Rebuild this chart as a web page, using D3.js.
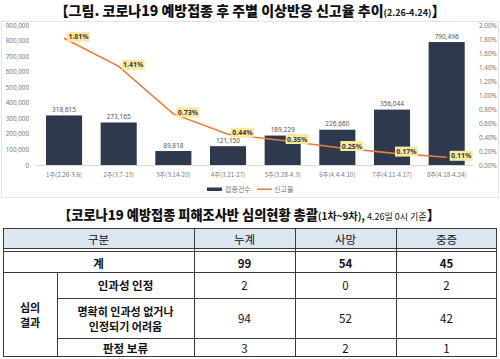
<!DOCTYPE html>
<html><head><meta charset="utf-8">
<script src="https://cdn.jsdelivr.net/npm/d3@7"></script>
<style>
html,body{margin:0;padding:0;background:#fff;}
svg{display:block;}
text{font-family:"Noto Sans CJK KR","Noto Sans",sans-serif;}
</style></head>
<body>
<svg id="c" width="500" height="359"></svg>
<script>
const categories = ["1주(2.26-3.6)","2주(3.7-13)","3주(3.14-20)","4주(3.21-27)","5주(3.28-4.3)","6주(4.4-4.10)","7주(4.11-4.17)","8주(4.18-4.24)"];
const counts = [318615,273165,89818,121150,189229,226660,356044,790496];
const rates = [1.81,1.41,0.73,0.44,0.35,0.25,0.17,0.11];
const leftTicks = [0,100000,200000,300000,400000,500000,600000,700000,800000,900000];
const rightTicks = [0,0.2,0.4,0.6,0.8,1.0,1.2,1.4,1.6,1.8,2.0];
const legendLabels = ["접종건수","신고율"];

const tableHeader = ["구분","누계","사망","중증"];
const totalRow = ["계",99,54,45];
const groupLabel = ["심의","결과"];
const rowLabels = [["인과성 인정"],["명확히 인과성 없거나","인정되기 어려움"],["판정 보류"]];
const rowValues = [[2,0,2],[94,52,42],[3,2,1]];

const svg = d3.select("#c");

// ---- Chart title
const t1 = svg.append("text").attr("x",250).attr("y",15.5).attr("text-anchor","middle")
  .attr("font-weight",900).attr("font-size",14).attr("fill","#111");
t1.append("tspan").text("【그림. 코로나19 예방접종 후 주별 이상반응 신고율 추이");
t1.append("tspan").attr("font-size",9).attr("font-weight",700).text("(2.26-4.24)");
t1.append("tspan").text("】");

// chart frame
svg.append("rect").attr("x",1.5).attr("y",21.5).attr("width",497).attr("height",176)
  .attr("fill","none").attr("stroke","#e4e4e4");

const x = d3.scaleBand().domain(categories).range([36.7,474]).paddingInner(0.34).paddingOuter(0.17);
const yL = d3.scaleLinear().domain([0,900000]).range([165,25]);
const yR = d3.scaleLinear().domain([0,2]).range([165,25]);

// left axis
const gL = svg.append("g").attr("transform","translate(29,0)")
  .call(d3.axisLeft(yL).tickValues(leftTicks).tickFormat(d3.format(",")).tickSize(0).tickPadding(0));
gL.select(".domain").remove();
gL.selectAll("text").attr("font-size",6.3).attr("fill","#777").style("font-family","'Noto Sans','DejaVu Sans',sans-serif");

// right axis
const gR = svg.append("g").attr("transform","translate(479,0)")
  .call(d3.axisRight(yR).tickValues(rightTicks).tickFormat(d=>d3.format(".2f")(d)+"%").tickSize(0).tickPadding(0));
gR.select(".domain").remove();
gR.selectAll("text").attr("font-size",6.3).attr("fill","#777").style("font-family","'Noto Sans','DejaVu Sans',sans-serif");

// baseline
svg.append("line").attr("x1",36).attr("x2",474).attr("y1",yL(0)+0.5).attr("y2",yL(0)+0.5).attr("stroke","#d9d9d9");

// bars
svg.selectAll("rect.bar").data(counts).join("rect").attr("class","bar")
  .attr("x",(d,i)=>x(categories[i])).attr("width",x.bandwidth())
  .attr("y",d=>yL(d)).attr("height",d=>yL(0)-yL(d)).attr("fill","#2d3a4e");

// bar value labels
svg.selectAll("text.bv").data(counts).join("text").attr("class","bv")
  .attr("x",(d,i)=>x(categories[i])+x.bandwidth()/2).attr("y",d=>yL(d)-3.5)
  .attr("text-anchor","middle").attr("font-size",6.5).attr("fill","#555")
  .style("font-family","'Noto Sans','DejaVu Sans',sans-serif")
  .text(d=>d3.format(",")(d));

// category labels
svg.selectAll("text.cat").data(categories).join("text").attr("class","cat")
  .attr("x",d=>x(d)+x.bandwidth()/2).attr("y",177).attr("text-anchor","middle")
  .attr("font-size",6.2).attr("fill","#777").text(d=>d);

// line
const cx = i => x(categories[i])+x.bandwidth()/2;
svg.append("path").datum(rates)
  .attr("d",d3.line().x((d,i)=>cx(i)).y(d=>yR(d)))
  .attr("fill","none").attr("stroke","#ed7d31").attr("stroke-width",1.6);

// rate labels
const rl = svg.selectAll("g.rl").data(rates).join("g").attr("class","rl")
  .attr("transform",(d,i)=>`translate(${cx(i)+3},${yR(d)-1.5})`);
rl.append("rect").attr("x",0).attr("y",-5).attr("width",23).attr("height",10).attr("fill","#fde8a2");
rl.append("text").attr("x",11.5).attr("y",2.5).attr("text-anchor","middle")
  .attr("font-size",7).attr("font-weight",700).attr("fill","#3a3a3a")
  .style("font-family","'Noto Sans','DejaVu Sans',sans-serif")
  .text(d=>d3.format(".2f")(d)+"%");

// legend
svg.append("rect").attr("x",207).attr("y",187.5).attr("width",15).attr("height",3.5).attr("fill","#2d3a4e");
svg.append("text").attr("x",225).attr("y",191.8).attr("font-size",7).attr("fill","#777").text(legendLabels[0]);
svg.append("line").attr("x1",257).attr("x2",272).attr("y1",189.2).attr("y2",189.2).attr("stroke","#ed7d31").attr("stroke-width",1.5);
svg.append("text").attr("x",274).attr("y",191.8).attr("font-size",7).attr("fill","#777").text(legendLabels[1]);

// ---- Table title
const t2 = svg.append("text").attr("x",249).attr("y",220).attr("text-anchor","middle")
  .attr("font-weight",900).attr("font-size",13.2).attr("fill","#111");
t2.append("tspan").text("【코로나19 예방접종 피해조사반 심의현황 총괄");
t2.append("tspan").attr("font-size",10).attr("font-weight",700).text("(1차~9차), ");
t2.append("tspan").attr("font-size",9).attr("font-weight",400).text("4.26일 0시 기준");
t2.append("tspan").text("】");

// ---- Table
const colX = [3,57,194,295,396,497];
const rowY = [228,248,251,272,298,338,357];
const tg = svg.append("g");
tg.append("rect").attr("x",colX[0]).attr("y",rowY[0]).attr("width",colX[5]-colX[0]).attr("height",rowY[1]-rowY[0]).attr("fill","#dce6f2");

const ln = (x1,y1,x2,y2)=>tg.append("line").attr("x1",x1).attr("y1",y1).attr("x2",x2).attr("y2",y2).attr("stroke","#3a3a3a").attr("stroke-width",1);
ln(colX[0],rowY[0]+0.5,colX[5],rowY[0]+0.5);
ln(colX[0],rowY[1]+0.5,colX[5],rowY[1]+0.5);
ln(colX[0],rowY[2]+0.5,colX[5],rowY[2]+0.5);
ln(colX[0],rowY[3]+0.5,colX[5],rowY[3]+0.5);
ln(colX[1],rowY[4]+0.5,colX[5],rowY[4]+0.5);
ln(colX[1],rowY[5]+0.5,colX[5],rowY[5]+0.5);
ln(colX[0],rowY[6]-0.5,colX[5],rowY[6]-0.5);
ln(colX[0]+0.5,rowY[0],colX[0]+0.5,rowY[6]);
ln(colX[5]-0.5,rowY[0],colX[5]-0.5,rowY[6]);
ln(colX[1]+0.5,rowY[3],colX[1]+0.5,rowY[6]);
[2,3,4].forEach(c=>ln(colX[c]+0.5,rowY[0],colX[c]+0.5,rowY[6]));

const cell = (txt,xc,yc,bold,fs)=>tg.append("text").attr("x",xc).attr("y",yc).attr("text-anchor","middle")
  .attr("dominant-baseline","central").attr("font-size",fs||11.5).attr("font-weight",bold?700:400).attr("fill","#111").text(txt);
const mid = (a,b)=>(a+b)/2;

cell(tableHeader[0], mid(colX[0],colX[2]), mid(rowY[0],rowY[1])+0.5, false);
tableHeader.slice(1).forEach((h,i)=>cell(h, mid(colX[i+2],colX[i+3]), mid(rowY[0],rowY[1])+0.5, false));
cell(totalRow[0], mid(colX[0],colX[2]), mid(rowY[2],rowY[3])+1, true);
totalRow.slice(1).forEach((v,i)=>cell(v, mid(colX[i+2],colX[i+3]), mid(rowY[2],rowY[3])+1, true));
cell(groupLabel[0], mid(colX[0],colX[1]), mid(rowY[3],rowY[6])-7.5, true, 11);
cell(groupLabel[1], mid(colX[0],colX[1]), mid(rowY[3],rowY[6])+7.5, true, 11);
rowLabels.forEach((lab,r)=>{
  const yc = mid(rowY[r+3],rowY[r+4]);
  if(lab.length===1) cell(lab[0], mid(colX[1],colX[2]), yc, true);
  else { cell(lab[0], mid(colX[1],colX[2]), yc-7.5, true, 11); cell(lab[1], mid(colX[1],colX[2]), yc+7.5, true, 11); }
  rowValues[r].forEach((v,i)=>cell(v, mid(colX[i+2],colX[i+3]), yc, false));
});
</script>
</body></html>
